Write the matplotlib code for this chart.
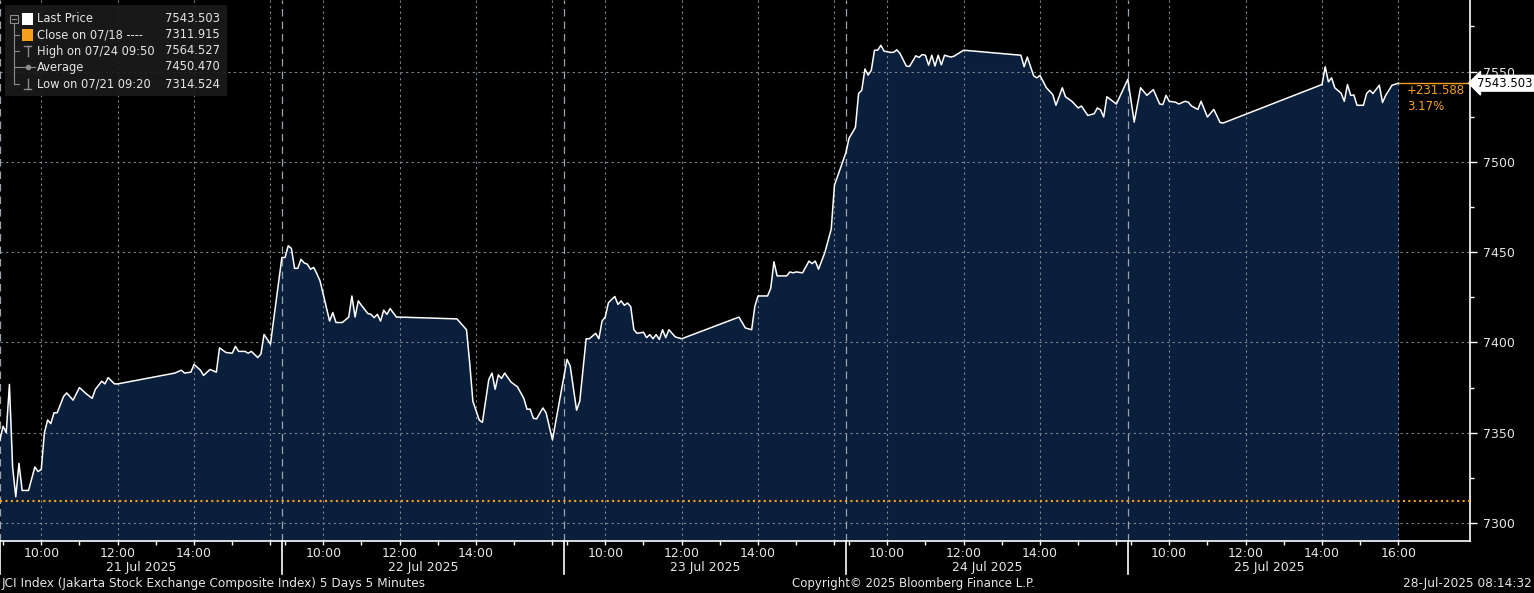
import numpy as np
import matplotlib.pyplot as plt
from matplotlib.patches import Rectangle
from matplotlib.lines import Line2D
from matplotlib import transforms

#%% Data (JCI, 5 min bars)
dates = ['21 Jul 2025', '22 Jul 2025', '23 Jul 2025', '24 Jul 2025', '25 Jul 2025']

d1_time = ['08:55', '09:00', '09:05', '09:10', '09:15', '09:20', '09:25', '09:30', '09:40', '09:50',
           '09:55', '10:00', '10:05', '10:10', '10:15', '10:20', '10:25', '10:35', '10:40', '10:50',
           '11:00', '11:10', '11:20', '11:25', '11:35', '11:40', '11:45', '11:55', '12:00', '13:30',
           '13:40', '13:45', '13:55', '14:00', '14:10', '14:15', '14:25', '14:35', '14:40', '14:50',
           '15:00', '15:05', '15:10', '15:20', '15:25', '15:30', '15:40', '15:45', '15:50', '16:00']
d1_val = [7346, 7353.5, 7350, 7376.7, 7331, 7314.5, 7333, 7318, 7318, 7331,
          7328.5, 7329.6, 7350, 7357, 7355, 7361, 7361, 7370, 7372, 7368,
          7375, 7371.7, 7369, 7374, 7378.5, 7377, 7380.5, 7377, 7377, 7383,
          7384.6, 7383, 7383.5, 7387.8, 7384.6, 7381.7, 7385, 7383.5, 7397, 7394.4,
          7394, 7397.8, 7395, 7395, 7394, 7395, 7391.6, 7393.5, 7404.4, 7399]

d2_time = ['08:55', '09:00', '09:05', '09:10', '09:15', '09:20', '09:25', '09:30', '09:35', '09:40',
           '09:45', '09:50', '09:55', '10:10', '10:15', '10:20', '10:30', '10:40', '10:45', '10:50',
           '10:55', '11:00', '11:10', '11:15', '11:20', '11:25', '11:30', '11:35', '11:40', '11:45',
           '11:55', '12:00', '13:30', '13:45', '13:50', '13:55', '14:05', '14:10', '14:20', '14:25',
           '14:30', '14:35', '14:40', '14:45', '14:55', '15:05', '15:15', '15:20', '15:25', '15:30',
           '15:35', '15:45', '15:50', '16:00']
d2_val = [7447, 7447, 7453.5, 7452, 7441, 7441, 7446, 7444, 7443.3, 7440.5,
          7441.5, 7438, 7434, 7411.8, 7416.5, 7411, 7411, 7414, 7425.7, 7414,
          7423, 7420.5, 7416, 7415.5, 7413.7, 7415.5, 7411.8, 7417.8, 7415.5, 7418.7,
          7414, 7414, 7413, 7407, 7388.7, 7367.4, 7357, 7355.7, 7379.4, 7383,
          7374, 7382, 7380, 7383, 7378, 7375.4, 7369, 7363, 7363, 7358,
          7357.6, 7363.7, 7361, 7346]

d3_time = ['09:00', '09:05', '09:15', '09:20', '09:30', '09:35', '09:45', '09:50', '09:55', '10:00',
           '10:05', '10:15', '10:20', '10:25', '10:30', '10:35', '10:40', '10:45', '10:50', '11:00',
           '11:05', '11:10', '11:15', '11:20', '11:25', '11:30', '11:35', '11:40', '11:50', '12:00',
           '13:30', '13:40', '13:50', '13:55', '14:00', '14:15', '14:20', '14:25', '14:30', '14:45',
           '14:50', '14:55', '15:00', '15:10', '15:20', '15:25', '15:30', '15:35', '15:45', '15:55',
           '16:00']
d3_val = [7390.6, 7386.8, 7362.4, 7367.4, 7402, 7402, 7405, 7402, 7411.8, 7414,
          7422, 7425.4, 7421, 7423, 7420.5, 7421.8, 7419.8, 7407, 7405, 7405.6,
          7402.6, 7404.3, 7402, 7404.3, 7401.6, 7407, 7402.6, 7407, 7403, 7402,
          7414, 7408, 7407, 7420, 7425.7, 7425.7, 7430, 7444.6, 7436.8, 7436.8,
          7439, 7438.5, 7439, 7438.5, 7445, 7443.6, 7445, 7440.5, 7449.8, 7462.8,
          7487]

d4_time = ['08:55', '09:00', '09:10', '09:15', '09:20', '09:25', '09:30', '09:35', '09:40', '09:45',
           '09:50', '09:55', '10:05', '10:10', '10:15', '10:20', '10:30', '10:35', '10:40', '10:45',
           '10:50', '10:55', '11:00', '11:05', '11:10', '11:15', '11:20', '11:25', '11:30', '11:40',
           '11:45', '12:00', '13:30', '13:35', '13:40', '13:50', '13:55', '14:00', '14:10', '14:20',
           '14:25', '14:35', '14:40', '14:50', '15:00', '15:05', '15:15', '15:25', '15:30', '15:35',
           '15:40', '15:45', '16:00']
d4_val = [7505, 7513, 7519, 7537.8, 7539.6, 7551.4, 7548, 7550.7, 7561.8, 7561.8,
          7564.5, 7561.3, 7560.6, 7560.6, 7562, 7560, 7553, 7552.8, 7555.7, 7558.7,
          7557.8, 7559.4, 7559, 7553.5, 7559, 7553, 7559, 7553.7, 7559, 7558,
          7558.5, 7561.8, 7559, 7552.6, 7558, 7547.6, 7546.5, 7547.8, 7541, 7537.2,
          7531.3, 7541, 7536, 7533.5, 7529.8, 7530.9, 7525.7, 7526.6, 7529.8, 7528.8,
          7524.8, 7536, 7532]

d5_time = ['08:55', '09:05', '09:15', '09:25', '09:35', '09:45', '09:50', '09:55', '10:00', '10:10',
           '10:15', '10:25', '10:30', '10:35', '10:45', '10:50', '11:00', '11:10', '11:20', '11:25',
           '14:00', '14:05', '14:10', '14:15', '14:20', '14:30', '14:35', '14:40', '14:45', '14:50',
           '14:55', '15:05', '15:10', '15:15', '15:20', '15:30', '15:35', '15:40', '15:50', '16:00']
d5_val = [7545.7, 7522, 7541, 7536.8, 7540, 7532, 7531.7, 7536.8, 7533.5, 7533,
          7532, 7533.5, 7533, 7530.9, 7529, 7533.5, 7524.8, 7529, 7521.7, 7521.5,
          7542.8, 7552.6, 7544.3, 7546.5, 7541, 7538, 7533.5, 7542.8, 7536.8, 7537,
          7531.3, 7531.3, 7537.8, 7539.6, 7537.8, 7542.4, 7532.8, 7536.8, 7542.4, 7543.503]

prev_close = 7311.915
last_price = 7543.503
change = '+231.588'
change_pct = '3.17%'

legend_rows = [('Last Price', '7543.503'),
               ('Close on 07/18 ----', '7311.915'),
               ('High on 07/24 09:50', '7564.527'),
               ('Average', '7450.470'),
               ('Low on 07/21 09:20', '7314.524')]

#%% compressed intraday axis: each session day gets the same width
DAY_W = 7.382
T0 = 8.92


def hrs(s):
    h, m = s.split(':')
    return int(h) + int(m) / 60.


def xpos(d, s):
    return d * DAY_W + hrs(s) - T0


x = []
v = []
for d, (tt, vv) in enumerate([(d1_time, d1_val), (d2_time, d2_val), (d3_time, d3_val),
                               (d4_time, d4_val), (d5_time, d5_val)]):
    x += [xpos(d, t) for t in tt]
    v += vv
x = np.array(x)
v = np.array(v)

W, H = 1534, 593
fig = plt.figure(figsize=(W / 100, H / 100), dpi=100)
fig.patch.set_facecolor('black')
ax = fig.add_axes([0, 52 / H, 1470 / W, 541 / H])
ax.set_facecolor('black')

ymin, ymax = 7290, 7589.6
ax.set_xlim(0, 1470 / 38.2)
ax.set_ylim(ymin, ymax)

navy = '#0a1f3b'
grid_c = '#7d8792'
orange = '#f7a01c'
txt_c = '#e6e6e6'

ax.fill_between(x, v, ymin, color=navy, lw=0, zorder=1)
ax.plot(x, v, color='white', lw=1.1, zorder=4)

# grid
for yy in range(7300, 7551, 50):
    ax.axhline(yy, color=grid_c, lw=0.8, ls=(0, (2, 3)), zorder=2)
for d in range(5):
    for hh in ['10:00', '12:00', '14:00', '16:00']:
        ax.axvline(xpos(d, hh), color=grid_c, lw=0.8, ls=(0, (2, 3)), zorder=2)
    ax.axvline(d * DAY_W, color='#9aa3ad', lw=0.9, ls=(0, (6, 4)), zorder=2)

# previous close + last price lines
ax.axhline(prev_close, color=orange, lw=1.5, ls=(0, (1, 1.6)), zorder=3)
ax.plot([x[-1], ax.get_xlim()[1]], [last_price, last_price], color=orange, lw=1, zorder=3)

# spines / ticks
for s in ['top', 'left']:
    ax.spines[s].set_visible(False)
for s in ['right', 'bottom']:
    ax.spines[s].set_color('white')
    ax.spines[s].set_linewidth(1.2)

ax.yaxis.tick_right()
ax.set_yticks(range(7300, 7551, 50))
ax.set_yticks(range(7325, 7576, 50), minor=True)
ax.tick_params(axis='y', which='major', colors='white', labelcolor=txt_c, labelsize=9,
               length=5, width=1, pad=4)
ax.tick_params(axis='y', which='minor', colors='white', length=3, width=1)

xt = []
xl = []
for d in range(5):
    for h in range(9, 17):
        xt.append(xpos(d, '%02d:00' % h))
        if h in (10, 12, 14) or (d == 4 and h == 16):
            xl.append('%02d:00' % h)
        else:
            xl.append('')
ax.set_xticks(xt)
ax.set_xticklabels(xl)
ax.tick_params(axis='x', colors='white', labelcolor=txt_c, labelsize=9, length=3, width=1, pad=1)

trans = transforms.blended_transform_factory(ax.transData, ax.transAxes)
for d in range(5):
    ax.text(d * DAY_W + 3.69, -27 / 541, dates[d], transform=trans, ha='center', va='center',
            color=txt_c, fontsize=9)
    ax.plot([d * DAY_W, d * DAY_W], [0, -33 / 541], transform=trans, color='white', lw=1.2,
            clip_on=False)

# last price tag
ax.annotate('%.3f' % last_price, xy=(1, last_price), xycoords=('axes fraction', 'data'),
            xytext=(5, 0), textcoords='offset points', ha='left', va='center', color='black',
            fontsize=8.4, bbox=dict(boxstyle='larrow,pad=0.12', fc='white', ec='white'), zorder=6,
            annotation_clip=False)
fig.text(1407 / W, 1 - 90 / H, change, color=orange, fontsize=8.5, va='center')
fig.text(1407 / W, 1 - 107 / H, change_pct, color=orange, fontsize=8.5, va='center')

# legend box
fig.add_artist(Rectangle((5 / W, 1 - 96 / H), 222 / W, 91 / H, transform=fig.transFigure,
                         fc='#1b1b1b', ec='none', alpha=0.92, zorder=5))
row_y = [19, 35, 51, 67, 84]
gray = '#8c8c8c'


def fl(x0, y0, x1, y1, **kw):
    fig.add_artist(Line2D([x0 / W, x1 / W], [1 - y0 / H, 1 - y1 / H], transform=fig.transFigure,
                          zorder=6, **kw))


for i, (lab, val) in enumerate(legend_rows):
    y = row_y[i]
    fig.text(37 / W, 1 - y / H, lab, color=txt_c, fontsize=8.3, va='center', zorder=7)
    fig.text(220 / W, 1 - y / H, val, color=txt_c, fontsize=8.3, va='center', ha='right', zorder=7)
    if i > 0:
        fl(14, y, 19, y, color=gray, lw=0.8)
fl(14, 24, 14, 84, color=gray, lw=0.8)
fig.add_artist(Rectangle((10 / W, 1 - 23 / H), 8 / W, 8 / H, transform=fig.transFigure,
                         fc='none', ec=gray, lw=0.8, zorder=6))
fl(12, 19, 16, 19, color=gray, lw=0.8)
fig.add_artist(Rectangle((22 / W, 1 - 25 / H), 11 / W, 12 / H, transform=fig.transFigure,
                         fc='white', ec='none', zorder=6))
fig.add_artist(Rectangle((22 / W, 1 - 41 / H), 11 / W, 12 / H, transform=fig.transFigure,
                         fc=orange, ec='none', zorder=6))
fl(24, 46, 31, 46, color=gray, lw=1)
fl(27.5, 46, 27.5, 56, color=gray, lw=1)
fl(20, 67, 35, 67, color=gray, lw=0.8)
fig.add_artist(Line2D([27.5 / W], [1 - 67 / H], transform=fig.transFigure, marker='o', ms=3,
                      color=gray, zorder=6))
fl(27.5, 79, 27.5, 89, color=gray, lw=1)
fl(24, 89, 31, 89, color=gray, lw=1)

# footer
fig.text(2 / W, 1 - 584 / H, 'JCI Index (Jakarta Stock Exchange Composite Index) 5 Days 5 Minutes',
         color=txt_c, fontsize=8.7, va='center')
fig.text(913 / W, 1 - 584 / H, 'Copyright\u00a9 2025 Bloomberg Finance L.P.', color=txt_c,
         fontsize=8.5, va='center', ha='center')
fig.text(1532 / W, 1 - 584 / H, '28-Jul-2025 08:14:32', color=txt_c, fontsize=8.7, va='center',
         ha='right')

plt.savefig('out.png', dpi=100, facecolor='black')
